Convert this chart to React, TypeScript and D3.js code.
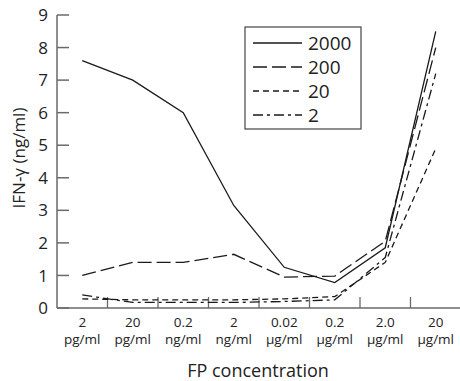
import React, { useEffect, useRef } from 'react';
import * as d3 from 'd3';

const doses = ['2', '20', '0.2', '2', '0.02', '0.2', '2.0', '20'];
const units = ['pg/ml', 'pg/ml', 'ng/ml', 'ng/ml', 'µg/ml', 'µg/ml', 'µg/ml', 'µg/ml'];
const yTicks = [0, 1, 2, 3, 4, 5, 6, 7, 8, 9];

const series2000 = [7.6, 7.0, 6.0, 3.15, 1.25, 0.78, 1.85, 8.5];
const series200 = [1.0, 1.4, 1.4, 1.65, 0.95, 0.98, 2.05, 8.0];
const series20 = [0.28, 0.25, 0.25, 0.25, 0.28, 0.35, 1.4, 4.9];
const series2 = [0.4, 0.17, 0.17, 0.17, 0.2, 0.25, 1.55, 7.2];

const seriesNames = ['2000', '200', '20', '2'];
const dashes = ['none', '14,5', '6,4', '10,4,3,4'];

const FONT = '"Open Sans", Lato, sans-serif';

const App = () => {
  const svgRef = useRef<SVGSVGElement>(null);

  const width = 460;
  const height = 381;

  useEffect(() => {
    const svg = d3.select(svgRef.current);
    svg.selectAll('*').remove();

    const left = 57;
    const right = 461;
    const top = 15;
    const bottom = 308;

    const x = d3.scaleBand<number>()
      .domain(d3.range(doses.length))
      .range([left, right]);

    const y = d3.scaleLinear().domain([0, 9]).range([bottom, top]);

    const axisColor = '#6a6a6a';
    const ink = '#1a1a1a';

    // y axis
    svg.append('line')
      .attr('x1', left).attr('x2', left)
      .attr('y1', top).attr('y2', bottom)
      .attr('stroke', axisColor).attr('stroke-width', 1.5);

    svg.selectAll('.ytick')
      .data(yTicks)
      .enter()
      .append('line')
      .attr('x1', left).attr('x2', left + 12)
      .attr('y1', d => y(d)).attr('y2', d => y(d))
      .attr('stroke', axisColor).attr('stroke-width', 1.5);

    svg.selectAll('.ylab')
      .data(yTicks)
      .enter()
      .append('text')
      .attr('x', left - 9)
      .attr('y', d => y(d))
      .attr('dy', '0.36em')
      .attr('text-anchor', 'end')
      .attr('font-family', FONT)
      .attr('font-size', 17)
      .attr('fill', '#222')
      .text(d => d);

    // x axis
    svg.append('line')
      .attr('x1', left).attr('x2', right)
      .attr('y1', bottom).attr('y2', bottom)
      .attr('stroke', axisColor).attr('stroke-width', 1.5);

    svg.selectAll('.xtick')
      .data(d3.range(1, doses.length))
      .enter()
      .append('line')
      .attr('x1', d => x(d)!).attr('x2', d => x(d)!)
      .attr('y1', bottom).attr('y2', bottom - 11)
      .attr('stroke', axisColor).attr('stroke-width', 1.3);

    // two-line category labels
    svg.selectAll('.xlab')
      .data(d3.range(doses.length))
      .enter()
      .append('text')
      .attr('x', d => x(d)! + x.bandwidth() / 2)
      .attr('y', 327)
      .attr('text-anchor', 'middle')
      .attr('font-family', FONT)
      .attr('font-size', 13.5)
      .attr('fill', '#222')
      .text(d => doses[d]);

    svg.selectAll('.xunit')
      .data(d3.range(doses.length))
      .enter()
      .append('text')
      .attr('x', d => x(d)! + x.bandwidth() / 2)
      .attr('y', 344)
      .attr('text-anchor', 'middle')
      .attr('font-family', FONT)
      .attr('font-size', 13.5)
      .attr('fill', '#222')
      .text(d => units[d]);

    // axis titles
    svg.append('text')
      .attr('x', 258).attr('y', 377)
      .attr('text-anchor', 'middle')
      .attr('font-family', FONT)
      .attr('font-size', 18)
      .attr('fill', '#222')
      .text('FP concentration');

    svg.append('text')
      .attr('transform', 'translate(25,158) rotate(-90)')
      .attr('text-anchor', 'middle')
      .attr('font-family', FONT)
      .attr('font-size', 17)
      .attr('fill', '#222')
      .text('IFN-γ (ng/ml)');

    // lines
    const allSeries = [series2000, series200, series20, series2];
    const line = d3.line<number>()
      .x((_, i) => x(i)! + x.bandwidth() / 2)
      .y(d => y(d));

    allSeries.forEach((s, k) => {
      svg.append('path')
        .datum(s)
        .attr('d', line)
        .attr('fill', 'none')
        .attr('stroke', ink)
        .attr('stroke-width', 1.3)
        .attr('stroke-dasharray', dashes[k]);
    });

    // legend
    const lg = svg.append('g');
    lg.append('rect')
      .attr('x', 245).attr('y', 27)
      .attr('width', 116).attr('height', 102)
      .attr('fill', 'white')
      .attr('stroke', '#444')
      .attr('stroke-width', 1.2);

    seriesNames.forEach((name, k) => {
      const ry = 43 + k * 24;
      lg.append('line')
        .attr('x1', 253).attr('x2', 302)
        .attr('y1', ry).attr('y2', ry)
        .attr('stroke', ink)
        .attr('stroke-width', 1.3)
        .attr('stroke-dasharray', dashes[k]);
      lg.append('text')
        .attr('x', 308).attr('y', ry)
        .attr('dy', '0.36em')
        .attr('font-family', FONT)
        .attr('font-size', 19)
        .attr('fill', '#222')
        .text(name);
    });
  }, []);

  return (
    <svg
      ref={svgRef}
      width={width}
      height={height}
      style={{ position: 'absolute', left: 0, top: 0, background: 'white' }}
    ></svg>
  );
};

export default App;
